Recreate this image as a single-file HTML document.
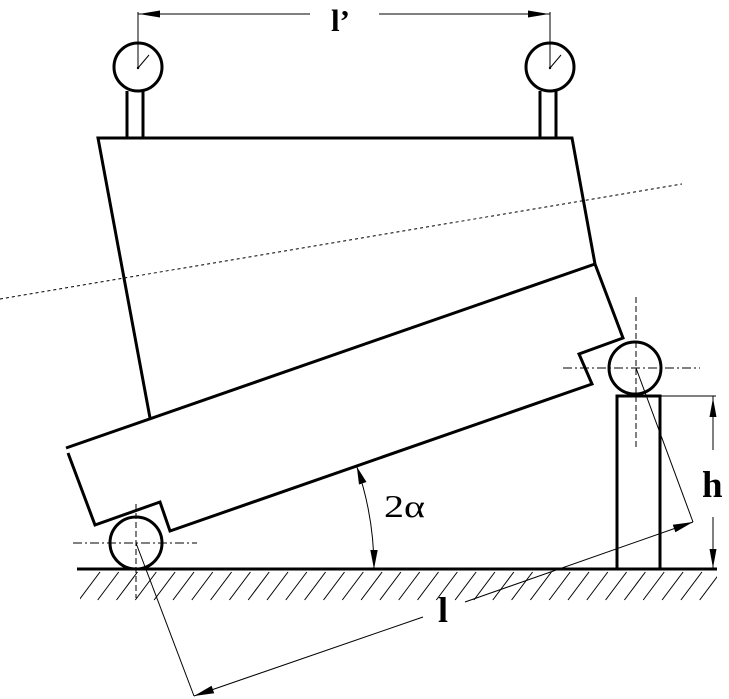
<!DOCTYPE html>
<html><head><meta charset="utf-8"><style>
html,body{margin:0;padding:0;background:#fff;}
svg{display:block;}
</style></head><body>
<svg width="729" height="699" viewBox="0 0 729 699" xmlns="http://www.w3.org/2000/svg">
<defs>
<clipPath id="hc"><rect x="80" y="571" width="637" height="30"/></clipPath>
</defs>
<rect width="729" height="699" fill="#fff"/>
<g fill="none" stroke="#000" stroke-linejoin="miter" stroke-linecap="butt">
<!-- dotted axis -->
<line x1="0" y1="299" x2="682" y2="184" stroke-width="1" stroke-dasharray="3,3"/>
<!-- upper box -->
<polyline points="150,418 98,138 572,138 595,264" stroke-width="3"/>
<!-- lower box -->
<line x1="66" y1="448" x2="595" y2="264" stroke-width="3"/>
<polyline points="595,264 623,338 579,354 592,384 170,531 160,502 95,525 68,453" stroke-width="3"/>
<!-- top rollers and posts -->
<circle cx="138" cy="67" r="24" stroke-width="3"/>
<circle cx="550" cy="67" r="24" stroke-width="3"/>
<line x1="127" y1="91" x2="127" y2="138" stroke-width="3"/>
<line x1="143" y1="91" x2="143" y2="138" stroke-width="3"/>
<line x1="540" y1="91" x2="540" y2="138" stroke-width="3"/>
<line x1="556" y1="91" x2="556" y2="138" stroke-width="3"/>
<line x1="138" y1="68" x2="149" y2="55" stroke-width="1"/>
<line x1="550" y1="68" x2="561" y2="55" stroke-width="1"/>
<!-- l' dimension -->
<line x1="138" y1="12" x2="138" y2="68" stroke-width="1"/>
<line x1="550" y1="12" x2="550" y2="68" stroke-width="1"/>
<line x1="138" y1="14" x2="310" y2="14" stroke-width="1"/>
<line x1="379" y1="14" x2="550" y2="14" stroke-width="1"/>
<!-- left bottom roller -->
<circle cx="136" cy="543" r="26" stroke-width="3"/>
<line x1="73" y1="543" x2="197" y2="543" stroke-width="1" stroke-dasharray="9,3,2,3"/>
<line x1="136" y1="504" x2="136" y2="598" stroke-width="1" stroke-dasharray="6,3"/>
<!-- right roller -->
<circle cx="635" cy="368" r="26" stroke-width="3"/>
<line x1="563" y1="368" x2="700" y2="368" stroke-width="1" stroke-dasharray="9,3,2,3"/>
<line x1="636" y1="297" x2="636" y2="449" stroke-width="1" stroke-dasharray="6,3"/>
<!-- post -->
<rect x="617" y="396" width="43" height="173" stroke-width="3"/>
<!-- h dimension -->
<line x1="660" y1="396" x2="716" y2="396" stroke-width="1"/>
<line x1="713" y1="396" x2="713" y2="450" stroke-width="1"/>
<line x1="713" y1="517" x2="713" y2="569" stroke-width="1"/>
<!-- ground -->
<line x1="77" y1="569" x2="717" y2="569" stroke-width="3"/>
<g clip-path="url(#hc)" stroke-width="1">
<line x1="79" y1="600" x2="100" y2="572"/>
<line x1="97.7" y1="600" x2="118.7" y2="572"/>
<line x1="116.5" y1="600" x2="137.5" y2="572"/>
<line x1="135.3" y1="600" x2="156.3" y2="572"/>
<line x1="154.1" y1="600" x2="175.1" y2="572"/>
<line x1="173" y1="600" x2="194" y2="572"/>
<line x1="191.8" y1="600" x2="212.8" y2="572"/>
<line x1="210.6" y1="600" x2="231.6" y2="572"/>
<line x1="229.4" y1="600" x2="250.4" y2="572"/>
<line x1="248.2" y1="600" x2="269.2" y2="572"/>
<line x1="267" y1="600" x2="288" y2="572"/>
<line x1="285.8" y1="600" x2="306.8" y2="572"/>
<line x1="304.6" y1="600" x2="325.6" y2="572"/>
<line x1="323.5" y1="600" x2="344.5" y2="572"/>
<line x1="342.3" y1="600" x2="363.3" y2="572"/>
<line x1="361.1" y1="600" x2="382.1" y2="572"/>
<line x1="379.9" y1="600" x2="400.9" y2="572"/>
<line x1="398.7" y1="600" x2="419.7" y2="572"/>
<line x1="417.5" y1="600" x2="438.5" y2="572"/>
<line x1="436.3" y1="600" x2="457.3" y2="572"/>
<line x1="455.1" y1="600" x2="476.1" y2="572"/>
<line x1="473.9" y1="600" x2="494.9" y2="572"/>
<line x1="492.8" y1="600" x2="513.8" y2="572"/>
<line x1="511.6" y1="600" x2="532.6" y2="572"/>
<line x1="530.4" y1="600" x2="551.4" y2="572"/>
<line x1="549.2" y1="600" x2="570.2" y2="572"/>
<line x1="568" y1="600" x2="589" y2="572"/>
<line x1="586.8" y1="600" x2="607.8" y2="572"/>
<line x1="605.6" y1="600" x2="626.6" y2="572"/>
<line x1="624.4" y1="600" x2="645.4" y2="572"/>
<line x1="643.2" y1="600" x2="664.2" y2="572"/>
<line x1="662.1" y1="600" x2="683.1" y2="572"/>
<line x1="680.9" y1="600" x2="701.9" y2="572"/>
<line x1="699.7" y1="600" x2="720.7" y2="572"/>
</g>
<!-- l dimension -->
<line x1="136" y1="543" x2="194" y2="696" stroke-width="1"/>
<line x1="636" y1="368" x2="693" y2="522" stroke-width="1"/>
<line x1="194" y1="696" x2="423" y2="617" stroke-width="1"/>
<line x1="465" y1="602" x2="693" y2="522" stroke-width="1"/>
<!-- 2alpha arc -->
<path d="M356.8 466.6 A313 313 0 0 1 374 569" stroke-width="1"/>
</g>
<g fill="#000" stroke="none">
<!-- arrowheads -->
<polygon points="139,14 160,10.5 160,17.5"/>
<polygon points="549,14 528,10.5 528,17.5"/>
<polygon points="713,398 709.5,417 716.5,417"/>
<polygon points="713,568 709.5,549 716.5,549"/>
<polygon points="194,696 214.2,693.3 211.6,685.7"/>
<polygon points="693,522 675.4,532.3 672.8,524.7"/>
<polygon points="356.8,466.6 359,484.5 366.5,482"/>
<polygon points="374,569 370.3,550 377.7,550"/>
<circle cx="138" cy="68" r="1.2"/>
<circle cx="550" cy="68" r="1.2"/>
</g>
<g fill="#000" font-family="'Liberation Serif', 'DejaVu Serif', serif">
<text x="331" y="31" font-size="31" font-weight="bold">l’</text>
<text x="438" y="622" font-size="36" font-weight="bold">l</text>
<text x="702" y="497" font-size="37" font-weight="bold">h</text>
<text x="384" y="517" font-size="32" textLength="41" lengthAdjust="spacingAndGlyphs">2α</text>
</g>
</svg>
</body></html>
